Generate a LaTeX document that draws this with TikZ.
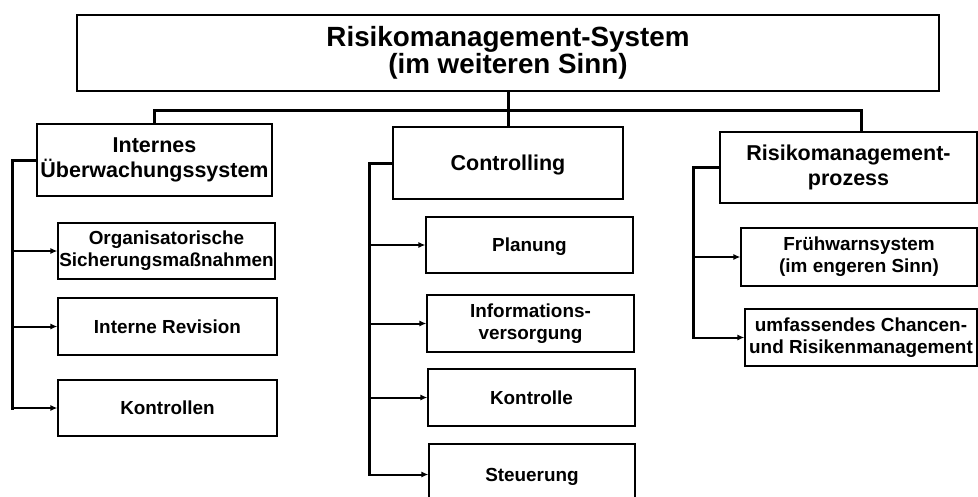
\documentclass[tikz,border=0pt]{standalone}
\usepackage{fontspec}
\setmainfont{Liberation Sans}
\usetikzlibrary{arrows.meta}
\newcommand\ascstrut[1]{\rule{0pt}{#1pt}}
\newcommand\descstrut[1]{\rule[-#1pt]{0pt}{0pt}}
\begin{document}
\begin{tikzpicture}[x=1pt,y=-1pt,
 box/.style={draw,line width=1.2pt,inner sep=0pt,align=center},
 lvlone/.style={box,font=\fontsize{27.8}{26.5}\selectfont\bfseries,
   execute at begin node={\ascstrut{27.5}}, execute at end node={\descstrut{5.9}}},
 lvltwo/.style={box,font=\fontsize{21.5}{25}\selectfont\bfseries,
   execute at begin node={\ascstrut{19.5}}, execute at end node={\descstrut{4.6}}},
 lvlthree/.style={box,font=\fontsize{18.9}{22}\selectfont\bfseries,
   execute at begin node={\ascstrut{17.1}}, execute at end node={\descstrut{4}}},
 bus/.style={line width=3pt},
 bracket/.style={line width=3pt,line cap=rect},
 feed/.style={line width=2pt,-{Latex[length=7pt,width=6pt]}}]
\useasboundingbox (0,0) rectangle (978,496);
\fill[white] (0,0) rectangle (978,496);
% level one
\node[lvlone,minimum width=862,minimum height=76] (top) at (508,53) {Risikomanagement-System\\(im weiteren Sinn)};
% level two
\node[lvltwo,minimum width=235,minimum height=72] (ius) at (154.5,160) {Internes\\Überwachungssystem};
\node[lvltwo,minimum width=230,minimum height=72] (ctrl) at (508,163) {Controlling};
\node[lvltwo,minimum width=257,minimum height=71] (risk) at (848.5,167.5) {Risikomanagement-\\prozess};
% level three, left
\node[lvlthree,minimum width=217,minimum height=56] (org) at (166.5,251) {Organisatorische\\Sicherungsmaßnahmen};
\node[lvlthree,minimum width=219,minimum height=57] (rev) at (167.5,326.5) {Interne Revision};
\node[lvlthree,minimum width=219,minimum height=56] (kon) at (167.5,408) {Kontrollen};
% level three, middle
\node[lvlthree,minimum width=207,minimum height=56] (plan) at (529.5,245) {Planung};
\node[lvlthree,minimum width=207,minimum height=57] (info) at (530.5,323.5) {Informations-\\versorgung};
\node[lvlthree,minimum width=207,minimum height=57] (kontr) at (531.5,397.5) {Kontrolle};
\node[lvlthree,minimum width=206,minimum height=61] (steu) at (532,474.5) {Steuerung};
% level three, right
\node[lvlthree,minimum width=236,minimum height=58] (frueh) at (859,257) {Frühwarnsystem\\(im engeren Sinn)};
\node[lvlthree,minimum width=232,minimum height=57] (umf) at (861,337.5) {umfassendes Chancen-\\und Risikenmanagement};
% bus
\coordinate (busL) at (154,110);
\coordinate (busR) at (861,110);
\draw[bus] (top.south) -- (ctrl.north);
\draw[bus] (busL |- ius.north) -- (busL) -- (busR) -- (busR |- risk.north);
% left bracket
\coordinate (jL) at (12,160);
\draw[bracket] (ius.west) -- (jL) -- (jL |- kon.west);
\draw[feed] (jL |- org.west) -- (org.west);
\draw[feed] (jL |- rev.west) -- (rev.west);
\draw[feed] (jL |- kon.west) -- (kon.west);
% middle bracket
\coordinate (jM) at (369,163);
\draw[bracket] (ctrl.west) -- (jM) -- (jM |- steu.west);
\draw[feed] (jM |- plan.west) -- (plan.west);
\draw[feed] (jM |- info.west) -- (info.west);
\draw[feed] (jM |- kontr.west) -- (kontr.west);
\draw[feed] (jM |- steu.west) -- (steu.west);
% right bracket
\coordinate (jR) at (693,167.5);
\draw[bracket] (risk.west) -- (jR) -- (jR |- umf.west);
\draw[feed] (jR |- frueh.west) -- (frueh.west);
\draw[feed] (jR |- umf.west) -- (umf.west);
\end{tikzpicture}
\end{document}
